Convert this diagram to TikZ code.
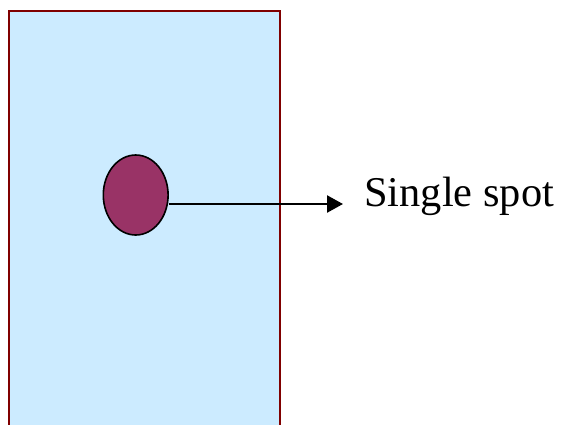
\documentclass[tikz,border=0pt]{standalone}
\usepackage{fontspec}
\setmainfont{Liberation Serif}
\usetikzlibrary{arrows.meta,shapes.geometric}

\definecolor{plateblue}{HTML}{CCEBFF}
\definecolor{platered}{HTML}{800000}
\definecolor{spotred}{HTML}{993366}

\begin{document}
\begin{tikzpicture}[
  x=0.5pt,y=-0.5pt,
  plate/.style={draw=platered, line width=1pt, fill=plateblue, inner sep=0pt,
    minimum width=135.5pt, minimum height=230pt},
  spot/.style={ellipse, draw=black, line width=0.8pt, fill=spotred, inner sep=0pt,
    minimum width=32.4pt, minimum height=40pt},
  label/.style={font=\fontsize{21.2}{25}\selectfont, inner sep=0pt, anchor=base west},
  arr/.style={-{Triangle[length=8pt,width=8.5pt]}, line width=1.2pt, draw=black}
]
\useasboundingbox (0,0) rectangle (561,424);
\clip (0,0) rectangle (561,424);

% plate with one spot
\node[plate] (plate) at (144.5,241) {};
\node[spot] (spot) at (135.7,195) {};

% label
\node[label] (name) at (364,206) {Single spot};
\draw[arr] ([yshift=-4.5pt]spot.east) -- ([yshift=-4.5pt]spot.east -| name.west)
  [shorten >=10.5pt];
\end{tikzpicture}
\end{document}
